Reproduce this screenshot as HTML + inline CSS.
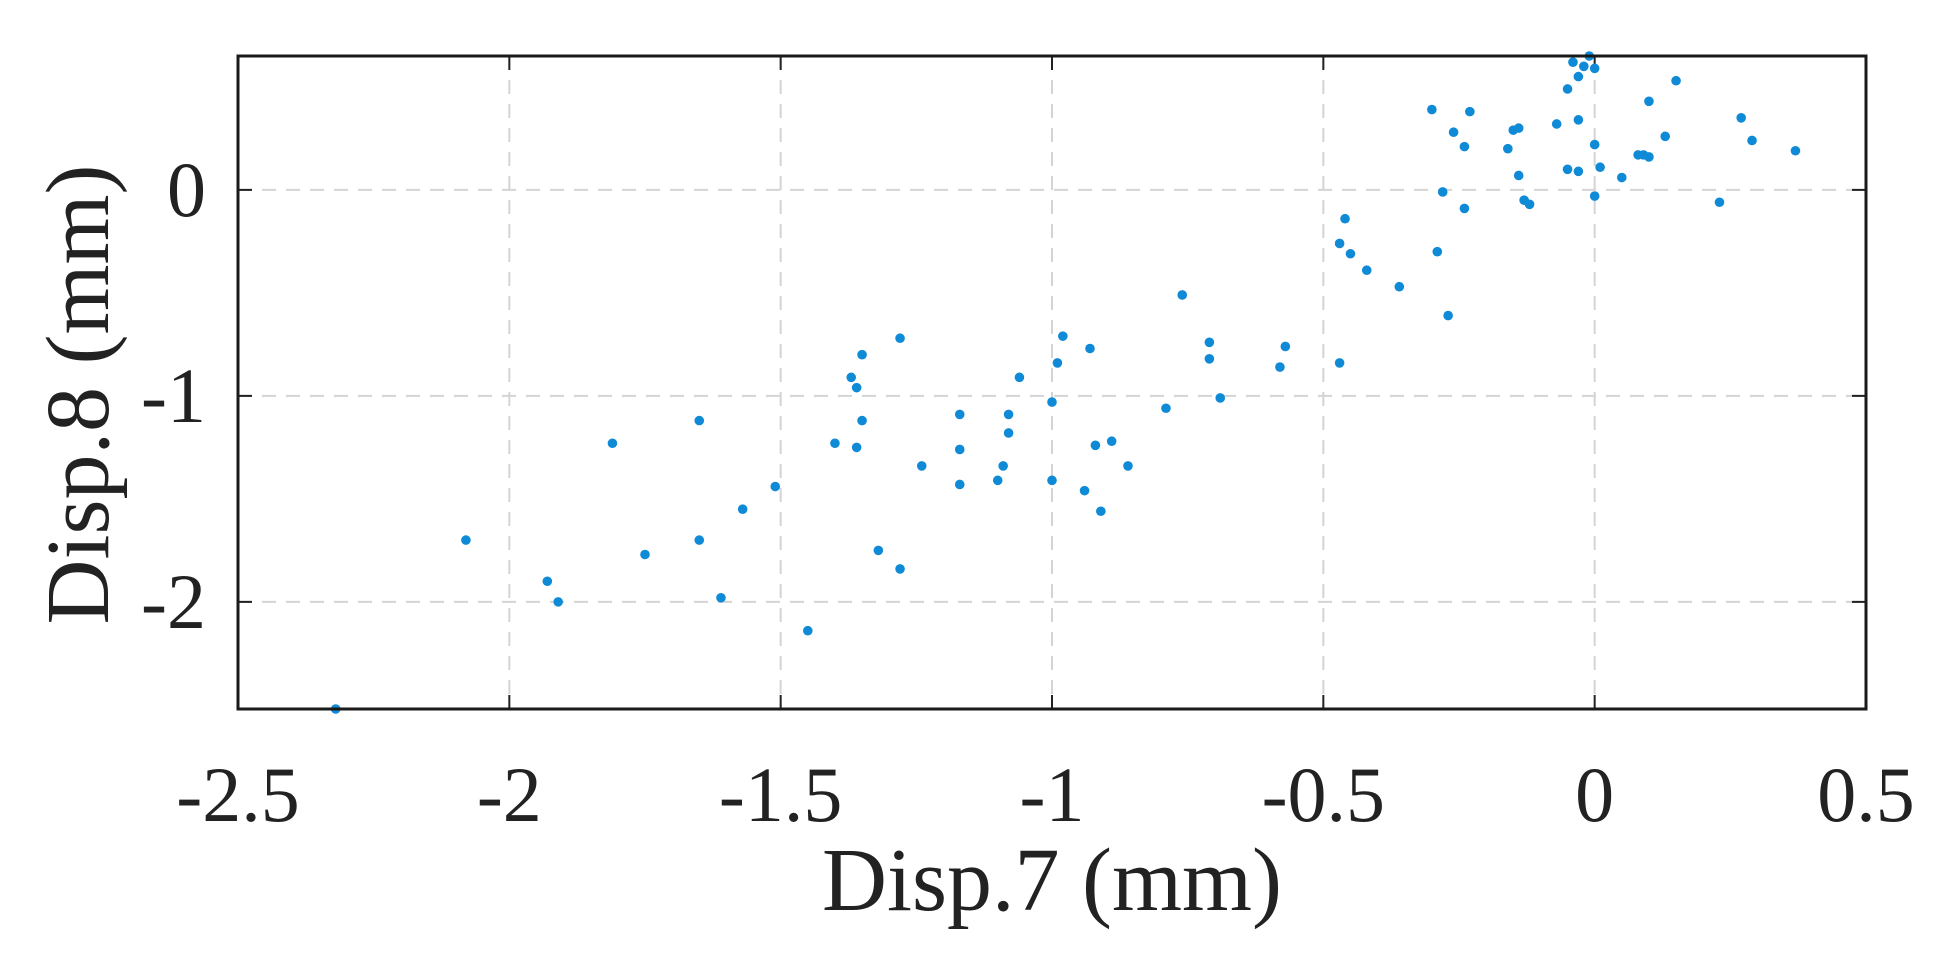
<!DOCTYPE html>
<html><head><meta charset="utf-8"><style>
html,body{margin:0;padding:0;background:#fff;}
svg{display:block;font-family:"Liberation Serif",serif;}
</style></head><body>
<svg id="chart" width="1960" height="970" viewBox="0 0 1960 970" xmlns="http://www.w3.org/2000/svg"></svg>
<script>
const xTicks=[-2.5,-2,-1.5,-1,-0.5,0,0.5];
const xTickLabels=["-2.5","-2","-1.5","-1","-0.5","0","0.5"];
const yTicks=[0,-1,-2];
const yTickLabels=["0","-1","-2"];
const xVals=[-2.32,-2.08,-1.93,-1.91,-1.81,-1.75,-1.65,-1.65,-1.61,-1.57,-1.51,-1.45,-1.40,-1.37,-1.36,-1.36,-1.35,-1.35,-1.32,-1.28,-1.28,-1.24,-1.17,-1.17,-1.17,-1.10,-1.09,-1.08,-1.08,-1.06,-1.00,-1.00,-0.99,-0.98,-0.94,-0.93,-0.92,-0.91,-0.89,-0.86,-0.79,-0.76,-0.71,-0.71,-0.69,-0.58,-0.57,-0.47,-0.47,-0.46,-0.45,-0.42,-0.36,-0.30,-0.29,-0.28,-0.27,-0.26,-0.24,-0.23,-0.24,-0.16,-0.15,-0.14,-0.14,-0.13,-0.12,-0.07,-0.05,-0.05,-0.04,-0.03,-0.03,-0.03,-0.02,-0.01,0.00,0.00,0.00,0.01,0.05,0.08,0.09,0.10,0.10,0.13,0.15,0.23,0.27,0.29,0.37];
const yVals=[-2.52,-1.70,-1.90,-2.00,-1.23,-1.77,-1.12,-1.70,-1.98,-1.55,-1.44,-2.14,-1.23,-0.91,-0.96,-1.25,-0.80,-1.12,-1.75,-0.72,-1.84,-1.34,-1.09,-1.26,-1.43,-1.41,-1.34,-1.09,-1.18,-0.91,-1.03,-1.41,-0.84,-0.71,-1.46,-0.77,-1.24,-1.56,-1.22,-1.34,-1.06,-0.51,-0.82,-0.74,-1.01,-0.86,-0.76,-0.84,-0.26,-0.14,-0.31,-0.39,-0.47,0.39,-0.30,-0.01,-0.61,0.28,0.21,0.38,-0.09,0.20,0.29,0.30,0.07,-0.05,-0.07,0.32,0.49,0.10,0.62,0.09,0.34,0.55,0.60,0.65,0.59,-0.03,0.22,0.11,0.06,0.17,0.17,0.16,0.43,0.26,0.53,-0.06,0.35,0.24,0.19];
const L=238,R=1866,T=56,B=709;
const xMin=-2.5,xMax=0.5,yMin=-2.52,yMax=0.65;
const X=v=>L+(v-xMin)/(xMax-xMin)*(R-L);
const Y=v=>B-(v-yMin)/(yMax-yMin)*(B-T);
const svg=document.getElementById('chart');
const NS="http://www.w3.org/2000/svg";
function mk(tag,attrs,parent){const e=document.createElementNS(NS,tag);for(const k in attrs)e.setAttribute(k,attrs[k]);(parent||svg).appendChild(e);return e;}
const grid=mk('g',{});


xTicks.forEach((t,i)=>{
  if(i>0&&i<xTicks.length-1){const g=mk('line',{x1:X(t),x2:X(t),y1:T,y2:B,stroke:'#d4d4d4','stroke-width':2,'stroke-dasharray':'14,10'},grid);
  
  }
  const tk=mk('line',{x1:X(t),x2:X(t),y1:B,y2:B-14,stroke:'#222','stroke-width':2});
  
  
  const tk2=mk('line',{x1:X(t),x2:X(t),y1:T,y2:T+14,stroke:'#222','stroke-width':2});
  
  
  const tx=mk('text',{x:X(t),y:821,'text-anchor':'middle','font-size':78,fill:'#222'});
  tx.textContent=xTickLabels[i];
  
  
});
yTicks.forEach((t,i)=>{
  const g=mk('line',{x1:L,x2:R,y1:Y(t),y2:Y(t),stroke:'#d4d4d4','stroke-width':2,'stroke-dasharray':'14,10'},grid);
  
  
  const tk=mk('line',{x1:L,x2:L+14,y1:Y(t),y2:Y(t),stroke:'#222','stroke-width':2});
  
  
  const tk2=mk('line',{x1:R,x2:R-14,y1:Y(t),y2:Y(t),stroke:'#222','stroke-width':2});
  
  
  const tx=mk('text',{x:206,y:Y(t)+26,'text-anchor':'end','font-size':78,fill:'#222'});
  tx.textContent=yTickLabels[i];
  
  
});
const pts=mk('g',{});


xVals.forEach((v,i)=>{
  const c=mk('circle',{cx:X(v),cy:Y(yVals[i]),r:4.8,fill:'#0f8ad6'},pts);
  
  
});
const box=mk('rect',{x:L,y:T,width:R-L,height:B-T,fill:'none',stroke:'#1a1a1a','stroke-width':3});


const xl=mk('text',{x:(L+R)/2,y:910,'text-anchor':'middle','font-size':90,fill:'#222'});
xl.textContent='Disp.7 (mm)';


const yl=mk('text',{x:0,y:0,'text-anchor':'middle','font-size':90,fill:'#222',transform:`translate(108,${(T+B)/2+12}) rotate(-90)`});
yl.textContent='Disp.8 (mm)';


</script>
</body></html>
